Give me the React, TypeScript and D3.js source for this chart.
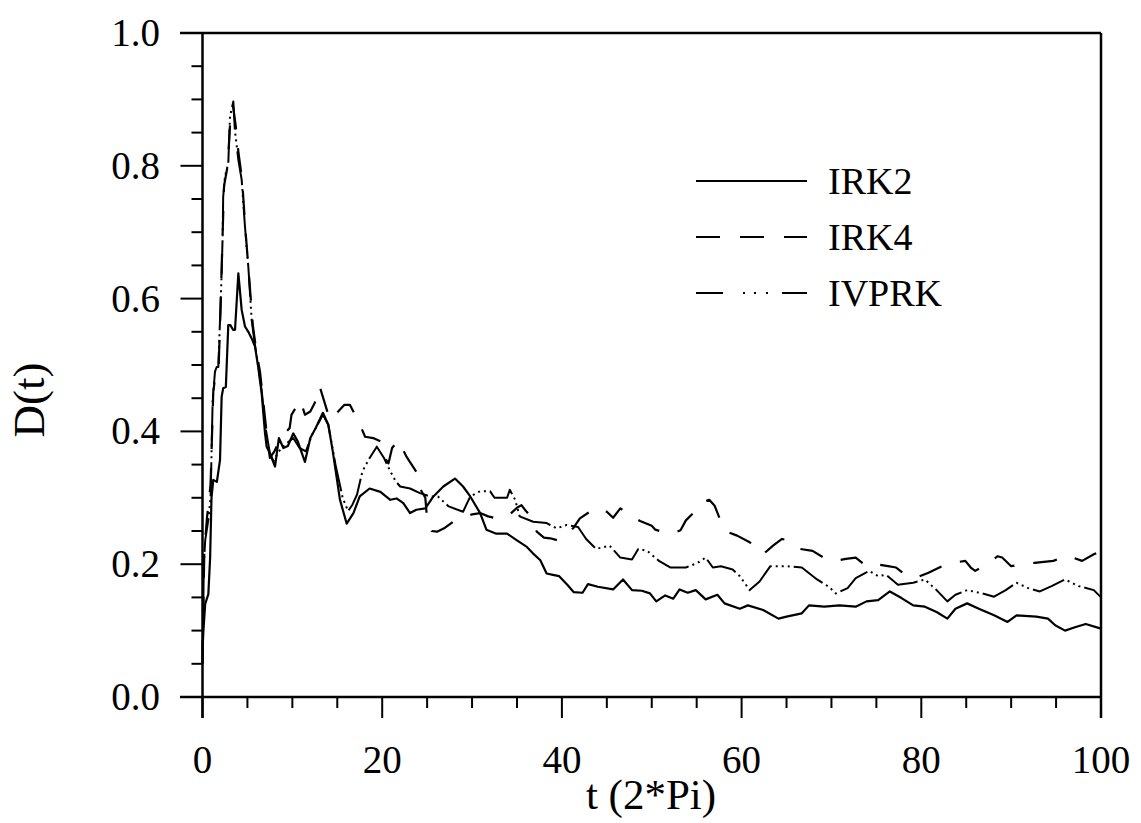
import React from 'react';
import * as d3 from 'd3';

// D(t) readings, [t in units of 2*Pi, D]
const irk2: [number, number][] = [
  [0, 0.07], [0.1, 0.1], [0.3, 0.14], [0.65, 0.155], [0.85, 0.21], [1.0, 0.3], [1.2, 0.327], [1.6, 0.324],
  [1.95, 0.357], [2.13, 0.452], [2.3, 0.465], [2.6, 0.467], [2.87, 0.56], [3.1, 0.56], [3.4, 0.553], [3.62, 0.553],
  [3.99, 0.638], [4.36, 0.583], [4.73, 0.558], [5.1, 0.55], [5.47, 0.54], [5.84, 0.528], [6.2, 0.497], [6.59, 0.457],
  [6.96, 0.397], [7.14, 0.377], [7.51, 0.367], [8.07, 0.347], [8.5, 0.39], [9.0, 0.375], [9.5, 0.378], [10.1, 0.397],
  [10.6, 0.385], [11.4, 0.354], [12.0, 0.39], [12.6, 0.405], [13.4, 0.428], [14.0, 0.41], [14.5, 0.37], [15.3, 0.297],
  [16.05, 0.261], [16.8, 0.277], [17.5, 0.302], [18.6, 0.314], [19.8, 0.309], [20.9, 0.297], [21.6, 0.299], [22.35, 0.292],
  [23.1, 0.277], [23.8, 0.282], [24.8, 0.284], [25.7, 0.302], [26.8, 0.317], [28.1, 0.329], [29.0, 0.317], [29.8, 0.302],
  [30.9, 0.277], [31.6, 0.252], [32.7, 0.246], [33.9, 0.246], [35.0, 0.236], [36.1, 0.226], [36.8, 0.216], [37.6, 0.206],
  [38.3, 0.186], [39.0, 0.184], [39.7, 0.182], [40.6, 0.169], [41.3, 0.158], [42.3, 0.157], [42.9, 0.17], [44.0, 0.166],
  [45.7, 0.162], [46.8, 0.177], [47.8, 0.161], [48.9, 0.16], [49.8, 0.156], [50.5, 0.144], [51.5, 0.153], [52.4, 0.148],
  [53.1, 0.162], [54.0, 0.157], [54.9, 0.161], [56.0, 0.147], [57.3, 0.154], [58.1, 0.141], [59.8, 0.133], [60.7, 0.138],
  [62.4, 0.131], [64.1, 0.118], [65.0, 0.121], [66.7, 0.126], [67.5, 0.138], [69.2, 0.136], [70.9, 0.138], [72.7, 0.136],
  [73.9, 0.144], [75.2, 0.146], [76.5, 0.159], [77.8, 0.149], [79.1, 0.138], [80.4, 0.136], [81.7, 0.128], [82.9, 0.118],
  [83.8, 0.133], [85.1, 0.141], [86.4, 0.133], [88.1, 0.123], [89.6, 0.113], [90.6, 0.123], [92.8, 0.121], [94.1, 0.118],
  [94.9, 0.108], [96.0, 0.1], [97.1, 0.105], [98.3, 0.11], [100, 0.103],
];

const irk4: [number, number][] = [
  [0, 0.05], [0.2, 0.22], [0.5, 0.27], [0.9, 0.32], [1.2, 0.46], [1.5, 0.49], [1.8, 0.5], [2.0, 0.58],
  [2.2, 0.68], [2.4, 0.77], [2.8, 0.8], [3.1, 0.87], [3.4, 0.89], [3.7, 0.86], [4.0, 0.82], [4.4, 0.78],
  [4.8, 0.7], [5.2, 0.63], [5.6, 0.56], [6.0, 0.52], [6.4, 0.49], [6.8, 0.44], [7.2, 0.39], [7.5, 0.36],
  [8.0, 0.37], [8.7, 0.39], [9.7, 0.405], [9.9, 0.425], [10.9, 0.447], [11.4, 0.425], [12.0, 0.43], [12.5, 0.443],
  [12.9, 0.468], [13.1, 0.465], [13.6, 0.443], [14.0, 0.425], [14.4, 0.417], [15.1, 0.43], [15.8, 0.44], [16.4, 0.44],
  [17.3, 0.417], [18.1, 0.392], [19.0, 0.39], [19.8, 0.385], [20.3, 0.36], [20.7, 0.352], [21.1, 0.375], [21.8, 0.387],
  [22.7, 0.362], [23.8, 0.339], [24.2, 0.314], [24.8, 0.3], [25.0, 0.267], [25.5, 0.25], [26.1, 0.249], [27.0, 0.255],
  [27.9, 0.264], [29.0, 0.27], [30.0, 0.275], [30.9, 0.277], [31.8, 0.272], [32.7, 0.269], [33.5, 0.27], [34.2, 0.275],
  [35.0, 0.285], [35.5, 0.289], [36.0, 0.28], [36.4, 0.274], [37.2, 0.249], [38.0, 0.24], [38.7, 0.239], [39.5, 0.236],
  [40.5, 0.244], [41.3, 0.255], [42.0, 0.269], [43.0, 0.278], [43.7, 0.284], [44.5, 0.283], [45.0, 0.279], [45.7, 0.27],
  [46.5, 0.284], [47.5, 0.275], [48.7, 0.265], [50.0, 0.258], [50.4, 0.252], [51.4, 0.248], [52.3, 0.246], [53.2, 0.251],
  [53.8, 0.266], [54.9, 0.281], [55.8, 0.294], [56.4, 0.297], [57.0, 0.288], [57.5, 0.271], [57.9, 0.256], [58.5, 0.248],
  [59.5, 0.243], [60.9, 0.233], [62.4, 0.215], [63.5, 0.228], [64.5, 0.238], [65.2, 0.236], [66.5, 0.223], [67.9, 0.22],
  [69.5, 0.207], [70.5, 0.205], [71.6, 0.208], [72.7, 0.21], [73.9, 0.197], [75.0, 0.2], [76.3, 0.197], [77.2, 0.195],
  [78.4, 0.182], [79.5, 0.18], [80.8, 0.187], [82.3, 0.197], [83.5, 0.202], [84.9, 0.205], [85.5, 0.195], [86.0, 0.19],
  [87.3, 0.2], [88.5, 0.212], [89.0, 0.21], [90.0, 0.197], [91.3, 0.2], [92.6, 0.202], [94.7, 0.205], [96.2, 0.213],
  [97.9, 0.205], [99.2, 0.215], [100, 0.22],
];

const ivprk: [number, number][] = [
  [0, 0.05], [0.15, 0.2], [0.3, 0.236], [0.65, 0.267], [0.9, 0.3], [1.13, 0.447], [1.39, 0.49], [1.58, 0.497],
  [1.76, 0.497], [1.95, 0.568], [2.13, 0.638], [2.25, 0.698], [2.3, 0.753], [2.5, 0.784], [2.87, 0.804], [3.06, 0.874],
  [3.43, 0.897], [3.6, 0.854], [3.99, 0.809], [4.36, 0.779], [4.73, 0.708], [5.1, 0.648], [5.47, 0.568], [5.84, 0.53],
  [6.2, 0.5], [6.6, 0.46], [6.96, 0.41], [7.5, 0.367], [7.9, 0.355], [8.5, 0.37], [9.2, 0.38], [10.1, 0.39],
  [10.8, 0.375], [11.5, 0.37], [12.2, 0.395], [12.8, 0.41], [13.4, 0.425], [14.0, 0.41], [14.8, 0.35], [15.6, 0.3],
  [16.2, 0.28], [16.7, 0.29], [17.2, 0.305], [17.8, 0.34], [18.6, 0.36], [19.4, 0.377], [20.2, 0.36], [20.9, 0.34],
  [21.5, 0.325], [22.0, 0.317], [23.1, 0.314], [24.2, 0.307], [25.3, 0.302], [26.2, 0.302], [27.4, 0.287], [29.0, 0.279],
  [29.8, 0.302], [30.9, 0.31], [32.0, 0.31], [32.5, 0.3], [33.9, 0.3], [34.2, 0.312], [34.8, 0.297], [35.3, 0.272],
  [36.8, 0.264], [38.3, 0.262], [39.4, 0.254], [40.5, 0.259], [41.8, 0.256], [42.7, 0.238], [43.8, 0.223], [45.3, 0.228],
  [46.5, 0.21], [47.8, 0.207], [48.5, 0.223], [49.5, 0.22], [50.8, 0.205], [52.1, 0.195], [53.8, 0.195], [55.1, 0.202],
  [56.0, 0.21], [56.8, 0.195], [57.7, 0.197], [59.0, 0.192], [59.8, 0.182], [60.9, 0.161], [62.0, 0.174], [63.2, 0.197],
  [65.0, 0.197], [66.7, 0.195], [68.4, 0.177], [69.7, 0.166], [70.5, 0.156], [71.8, 0.164], [72.7, 0.179], [74.2, 0.19],
  [75.2, 0.182], [76.1, 0.184], [77.4, 0.169], [79.1, 0.172], [80.4, 0.177], [81.7, 0.161], [82.9, 0.144], [83.8, 0.154],
  [85.1, 0.161], [86.8, 0.156], [88.1, 0.151], [89.4, 0.161], [90.6, 0.172], [91.9, 0.164], [93.2, 0.159], [94.5, 0.167],
  [96.0, 0.177], [97.5, 0.167], [99.2, 0.161], [100, 0.15],
];

const seriesNames = ['IRK2', 'IRK4', 'IVPRK'];
const xMajor = [0, 20, 40, 60, 80, 100];
const yMajor = [0, 0.2, 0.4, 0.6, 0.8, 1.0];

const W = 1141;
const H = 823;
const FONT = '"Liberation Serif", "Times New Roman", serif';

const App: React.FC = () => {
  const x = d3.scaleLinear().domain([0, 100]).range([202.5, 1101]);
  const y = d3.scaleLinear().domain([0, 1]).range([697, 33]);

  const line = d3.line<[number, number]>()
    .x(d => x(d[0]))
    .y(d => y(d[1]));

  const xMinor = d3.range(0, 100.01, 5);
  const yMinor = d3.range(0, 1.001, 0.05);

  // line styles: solid, dashed, dash-dot-dot
  const styles = [
    { dash: undefined, legendDash: undefined, width: 2.2 },
    { dash: '24,19', legendDash: '24,20', width: 2.2 },
    { dash: '34,4,2,4,2,4,2,4', legendDash: '27,20,2,9,2,10,2,14', width: 2 },
  ];
  const data = [irk2, irk4, ivprk];

  return (
    <svg width={W} height={H} style={{ position: 'absolute', left: 0, top: 0, background: '#fff' }}>
      {/* frame */}
      <g stroke="#000" strokeWidth={2.5} fill="none">
        <line x1={180} x2={x(100)} y1={y(1)} y2={y(1)} />
        <line x1={180} x2={x(100)} y1={y(0)} y2={y(0)} />
        <line x1={x(0)} x2={x(0)} y1={y(1)} y2={y(0) + 21} />
        <line x1={x(100)} x2={x(100)} y1={y(1)} y2={y(0) + 21} />
      </g>

      {/* x ticks */}
      <g stroke="#000" strokeWidth={2}>
        {xMinor.map(t => (
          <line key={t} x1={x(t)} x2={x(t)} y1={y(0)} y2={y(0) + (t % 20 === 0 ? 21 : 11)} />
        ))}
      </g>
      {/* y ticks */}
      <g stroke="#000" strokeWidth={2}>
        {yMinor.map(v => {
          const major = Math.abs(v * 5 - Math.round(v * 5)) < 1e-6;
          return <line key={v} x1={x(0) - (major ? 22 : 11)} x2={x(0)} y1={y(v)} y2={y(v)} />;
        })}
      </g>

      {/* tick labels */}
      <g fontFamily={FONT} fontSize={39} fill="#000">
        {xMajor.map(t => (
          <text key={t} x={x(t)} y={773} textAnchor="middle">{t}</text>
        ))}
        {yMajor.map(v => (
          <text key={v} x={160} y={y(v) + 13} textAnchor="end">{v.toFixed(1)}</text>
        ))}
      </g>

      {/* axis titles */}
      <text x={651} y={809} textAnchor="middle" fontFamily={FONT} fontSize={43}>t (2*Pi)</text>
      <text transform="translate(44,400) rotate(-90)" textAnchor="middle" fontFamily={FONT} fontSize={45}>D(t)</text>

      {/* series */}
      <g fill="none" stroke="#000" strokeLinejoin="round">
        {data.map((d, i) => (
          <path key={seriesNames[i]} d={line(d) || ''} strokeWidth={styles[i].width} strokeDasharray={styles[i].dash} />
        ))}
      </g>

      {/* legend */}
      <g fontFamily={FONT} fontSize={38}>
        {seriesNames.map((name, i) => {
          const ly = 181 + i * 56;
          return (
            <g key={name}>
              <line x1={696} x2={807} y1={ly} y2={ly} stroke="#000" strokeWidth={2.2} strokeDasharray={styles[i].legendDash} />
              <text x={828} y={ly + 13}>{name}</text>
            </g>
          );
        })}
      </g>
    </svg>
  );
};

export default App;
